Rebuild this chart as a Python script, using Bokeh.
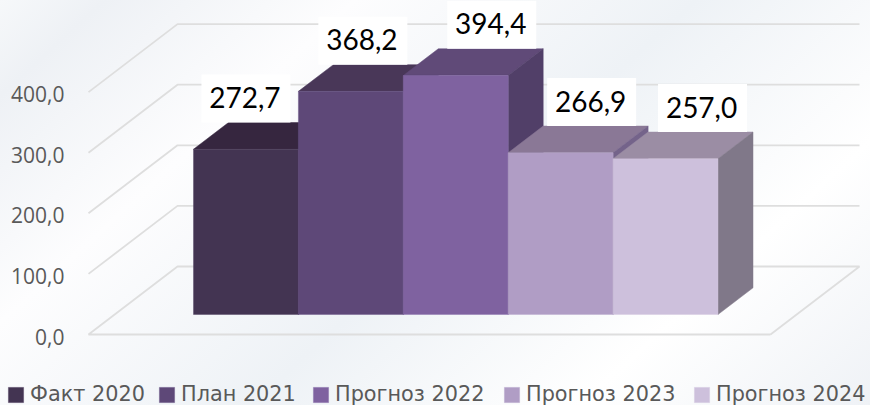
from bokeh.plotting import figure
from bokeh.embed import file_html
from bokeh.resources import INLINE
from bokeh.core.properties import value
from bokeh.models import Legend, LegendItem, FixedTicker, LinearAxis, Range1d

series = ["Факт 2020", "План 2021", "Прогноз 2022", "Прогноз 2023", "Прогноз 2024"]
values = [272.7, 368.2, 394.4, 266.9, 257.0]
labels = ["272,7", "368,2", "394,4", "266,9", "257,0"]
ticks = [0, 100, 200, 300, 400]
tick_labels = ["0,0", "100,0", "200,0", "300,0", "400,0"]
front_colors = ["#433452", "#5E4878", "#7F62A0", "#B09DC5", "#CDC0DC"]
top_colors = ["#36263F", "#493758", "#604A78", "#8A7896", "#9B8DA4"]
side_colors = ["#34283F", "#453558", "#513F68", "#74638A", "#807889"]
edge_colors = ["#4D3D5E", "#6B5587", "#8A6FAA", "#B9A8CC", "#D3C8E0"]

W, H = 870, 405
PX_X = 104.9          # pixels per bar slot
PX_Y = 0.606          # pixels per value unit
X0_PX, Y0_PX = 193.0, 334.0

y_start, y_end = -(H - Y0_PX) / PX_Y, Y0_PX / PX_Y
p = figure(width=W, height=H, output_backend="svg", toolbar_location=None,
           x_axis_type=None, y_axis_type=None,
           x_range=Range1d(-X0_PX / PX_X, (W - X0_PX) / PX_X),
           y_range=Range1d(y_start, y_end),
           min_border_left=0, min_border_right=0, min_border_top=0, min_border_bottom=0,
           outline_line_color=None, background_fill_alpha=0, border_fill_alpha=0)
p.grid.visible = False
p.styles = {
    "position": "absolute", "left": "0", "top": "0",
    "background": "linear-gradient(137.7deg, #f6f8fa 0%, #eef1f5 8%, #fdfdfe 27%, #eef2f6 53%, #ffffff 78%, #eff2f6 100%)",
}

# walls: front edge -> back edge of the floor
wall_dx, wall_dy = 89 / PX_X, 68 / PX_Y
floor_l, floor_r = (88 - X0_PX) / PX_X, (770 - X0_PX) / PX_X
grid_c = "#DEDEDE"
for t in ticks:
    xs = [floor_l, floor_l + wall_dx, floor_r + wall_dx]
    ys = [t, t + wall_dy, t + wall_dy]
    if t == 0:
        xs = [floor_r, floor_l, floor_l + wall_dx, floor_r + wall_dx, floor_r]
        ys = [0, 0, wall_dy, wall_dy, 0]
    p.line(xs, ys, line_color=grid_c, line_width=1.8)

# bars
lift = 20 / PX_Y
bar_dx, bar_dy = 35 / PX_X, 26.7 / PX_Y
fronts = []
for i, v in enumerate(values):
    top = lift + v
    p.patch([i, i + 1, i + 1 + bar_dx, i + bar_dx], [top, top, top + bar_dy, top + bar_dy],
            fill_color=top_colors[i], line_color=top_colors[i], line_width=0.5)
    p.patch([i + 1, i + 1 + bar_dx, i + 1 + bar_dx, i + 1],
            [lift, lift + bar_dy, top + bar_dy, top],
            fill_color=side_colors[i], line_color=side_colors[i], line_width=0.5)
    fronts.append(p.quad(left=[i], right=[i + 1], bottom=[lift], top=[top],
                         fill_color=front_colors[i], line_color=edge_colors[i],
                         line_width=0.6, line_alpha=0.7))

# data labels on white boxes
label_shift_px = [0, 12, 36, 31, 37]
box_w, box_h = 89, 48
for i, v in enumerate(values):
    cx = i + 0.5 + label_shift_px[i] / PX_X
    cy = lift + v + bar_dy + (box_h / 2) / PX_Y
    p.rect([cx], [cy], width=box_w, height=box_h, width_units="screen", height_units="screen",
           fill_color="#FFFFFF", line_color=None)
    p.text([cx], [cy], text=[labels[i]], text_align="center", text_baseline="middle",
           x_offset=-1, y_offset=-1,
           text_font=value("Lato"), text_font_size="28px", text_color="#000000")

# value axis, drawn inside the frame so that the legend is not clipped by it
p.extra_y_ranges = {"labels": Range1d(y_start + 2 / PX_Y, y_end + 2 / PX_Y)}
axis = LinearAxis(ticker=FixedTicker(ticks=ticks), fixed_location=(75 - X0_PX) / PX_X,
                  y_range_name="labels",
                  major_label_overrides={t: s for t, s in zip(ticks, tick_labels)},
                  axis_line_color=None, major_tick_line_color=None, minor_tick_line_color=None,
                  major_label_standoff=5,
                  major_label_text_font="Open Sans", major_label_text_font_size="21px",
                  major_label_text_color="#595959")
p.add_layout(axis, "left")

# legend: one entry per series, each placed where the reference has it
legend_x_px = [6, 157, 311, 502, 692]
for s, r, lx in zip(series, fronts, legend_x_px):
    legend = Legend(items=[LegendItem(label=s, renderers=[r])],
                    orientation="horizontal", location=(lx, -1),
                    glyph_width=19, glyph_height=19, label_standoff=5, spacing=0,
                    padding=0, margin=0, border_line_color=None, background_fill_alpha=0,
                    label_text_font="DejaVu Sans", label_text_font_size="20.8px",
                    label_text_color="#595959", label_height=15)
    p.add_layout(legend, "center")

open("out.html", "w").write(file_html(p, INLINE))
